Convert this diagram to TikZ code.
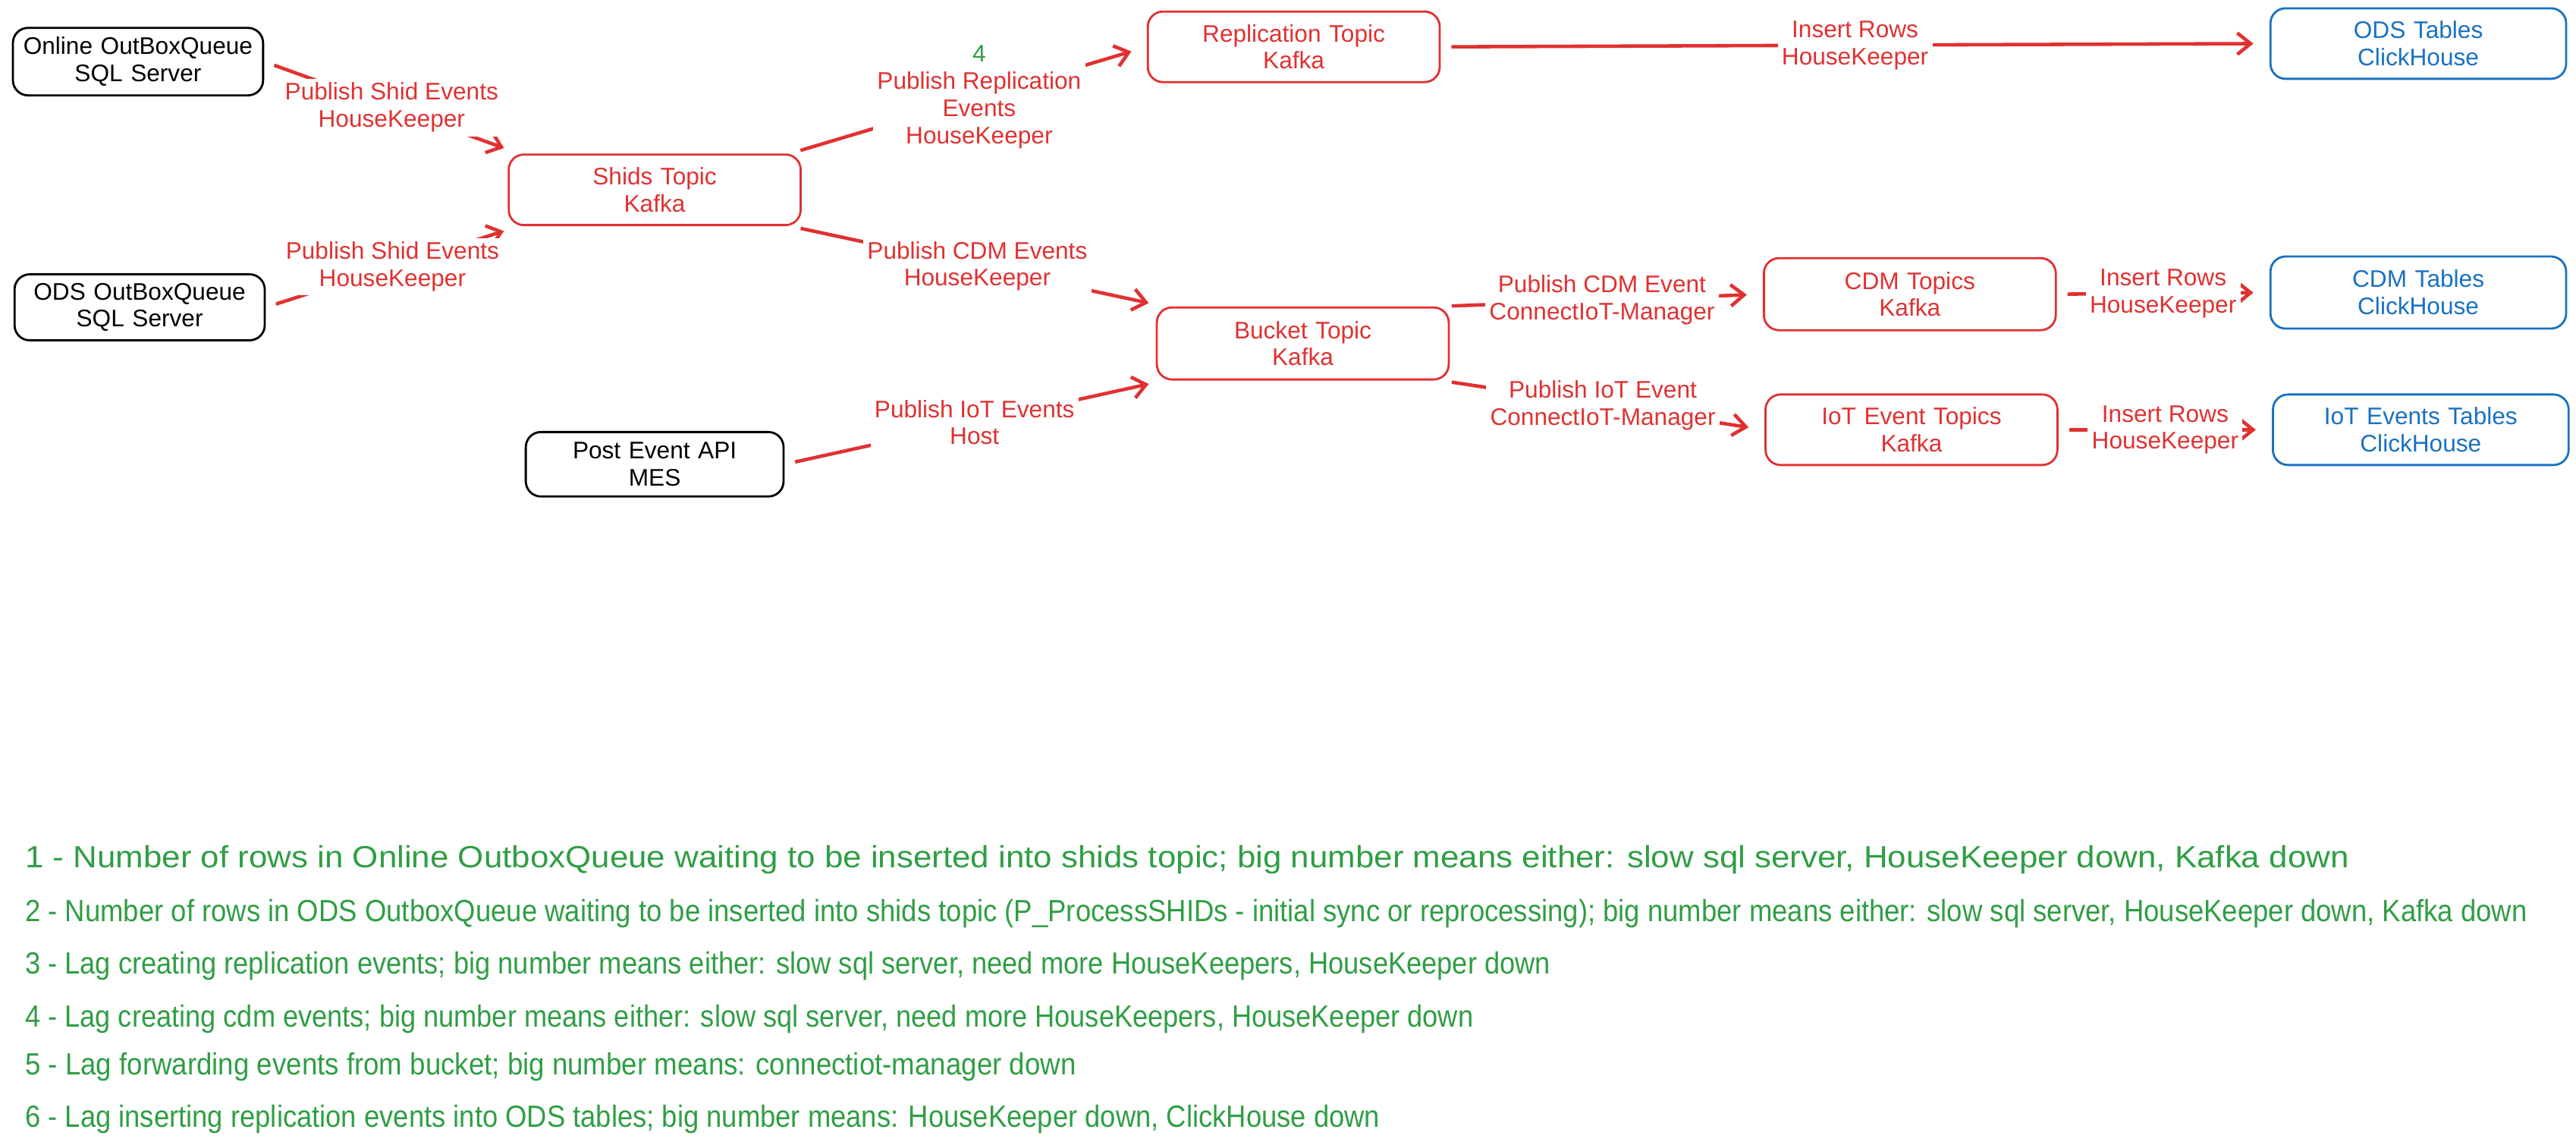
\documentclass[tikz,border=0pt]{standalone}
\usepackage{fontspec}
\setmainfont{Liberation Sans}
\usetikzlibrary{arrows.meta}
\definecolor{ered}{HTML}{E03131}
\definecolor{eblue}{HTML}{1971C2}
\definecolor{egreen}{HTML}{2F9E44}
\newcommand{\legw}[2]{\resizebox{#1cm}{\height}{#2}}
\begin{document}
\begin{tikzpicture}[x=0.02166cm,y=-0.02166cm,
  box/.style={draw,rounded corners=0.2cm,line width=0.8pt,align=center,font=\fontsize{9}{10.2}\selectfont,inner sep=0pt},
  bk/.style={box,draw=black,text=black},
  rd/.style={box,draw=ered,text=ered},
  bl/.style={box,draw=eblue,text=eblue},
  con/.style={draw=ered,line width=1.3pt,-{Straight Barb[length=5pt,width=8pt]},shorten <=4pt,shorten >=6pt},
  lbl/.style={fill=white,text=ered,align=center,font=\fontsize{9}{10.2}\selectfont,inner sep=1.5pt},
  leg/.style={anchor=west,text=egreen,font=\fontsize{11.5}{14}\selectfont,inner sep=0pt}]
\useasboundingbox (0,0) rectangle (1568,696.7);
\node[bk,text width=3.3cm,minimum height=0.89cm] (on) at (84,37.5) {Online OutBoxQueue\\SQL Server};
\node[bk,text width=3.3cm,minimum height=0.87cm] (od) at (85,187) {ODS OutBoxQueue\\SQL Server};
\node[rd,text width=3.85cm,minimum height=0.93cm] (sh) at (398.5,115.5) {Shids Topic\\Kafka};
\node[bk,text width=3.4cm,minimum height=0.85cm] (pe) at (398.5,282.5) {Post Event API\\MES};
\node[rd,text width=3.85cm,minimum height=0.93cm] (rp) at (787.5,28.5) {Replication Topic\\Kafka};
\node[rd,text width=3.85cm,minimum height=0.95cm] (bu) at (793,209) {Bucket Topic\\Kafka};
\node[bl,text width=3.9cm,minimum height=0.93cm] (ot) at (1472,26.5) {ODS Tables\\ClickHouse};
\node[rd,text width=3.85cm,minimum height=0.95cm] (ct) at (1162.5,179) {CDM Topics\\Kafka};
\node[rd,text width=3.85cm,minimum height=0.93cm] (it) at (1163.5,261.5) {IoT Event Topics\\Kafka};
\node[bl,text width=3.9cm,minimum height=0.95cm] (cc) at (1472,178) {CDM Tables\\ClickHouse};
\node[bl,text width=3.9cm,minimum height=0.93cm] (ic) at (1473.5,261.5) {IoT Events Tables\\ClickHouse};

\draw[con] (on.east) -- node[lbl]{Publish Shid Events\\HouseKeeper} (sh.165);
\draw[con] (od.east) -- node[lbl]{Publish Shid Events\\HouseKeeper} (sh.195);
\draw[con] (sh.15) -- node[lbl,pos=0.53](rl){{\color{egreen}4}\\Publish Replication\\Events\\HouseKeeper} (rp.west);
\draw[con] (sh.-15) -- node[lbl]{Publish CDM Events\\HouseKeeper} (bu.165);
\draw[con] (pe.east) -- node[lbl]{Publish IoT Events\\Host} (bu.195);
\draw[con] (rp.east) -- node[lbl]{Insert Rows\\HouseKeeper} (ot.west);
\draw[con] (bu.15) -- node[lbl]{Publish CDM Event\\ConnectIoT-Manager} (ct.west);
\draw[con] (bu.-15) -- node[lbl]{Publish IoT Event\\ConnectIoT-Manager} (it.west);
\draw[con] (ct.east) -- node[lbl]{Insert Rows\\HouseKeeper} (cc.west);
\draw[con] (it.east) -- node[lbl]{Insert Rows\\HouseKeeper} (ic.west);

\node[leg] (l1) at (15,523) {\legw{30.65}{1 - Number of rows in Online OutboxQueue waiting to be inserted into shids topic; big number means either: slow sql server, HouseKeeper down, Kafka down}};
\node[leg] (l2) at (15,556) {\legw{33.0}{2 - Number of rows in ODS OutboxQueue waiting to be inserted into shids topic (P\_ProcessSHIDs - initial sync or reprocessing); big number means either: slow sql server, HouseKeeper down, Kafka down}};
\node[leg] (l3) at (15,588) {\legw{20.12}{3 - Lag creating replication events; big number means either: slow sql server, need more HouseKeepers, HouseKeeper down}};
\node[leg] (l4) at (15,620) {\legw{19.1}{4 - Lag creating cdm events; big number means either: slow sql server, need more HouseKeepers, HouseKeeper down}};
\node[leg] (l5) at (15,649) {\legw{13.86}{5 - Lag forwarding events from bucket; big number means: connectiot-manager down}};
\node[leg] (l6) at (15,681) {\legw{17.87}{6 - Lag inserting replication events into ODS tables; big number means: HouseKeeper down, ClickHouse down}};
\end{tikzpicture}
\end{document}
